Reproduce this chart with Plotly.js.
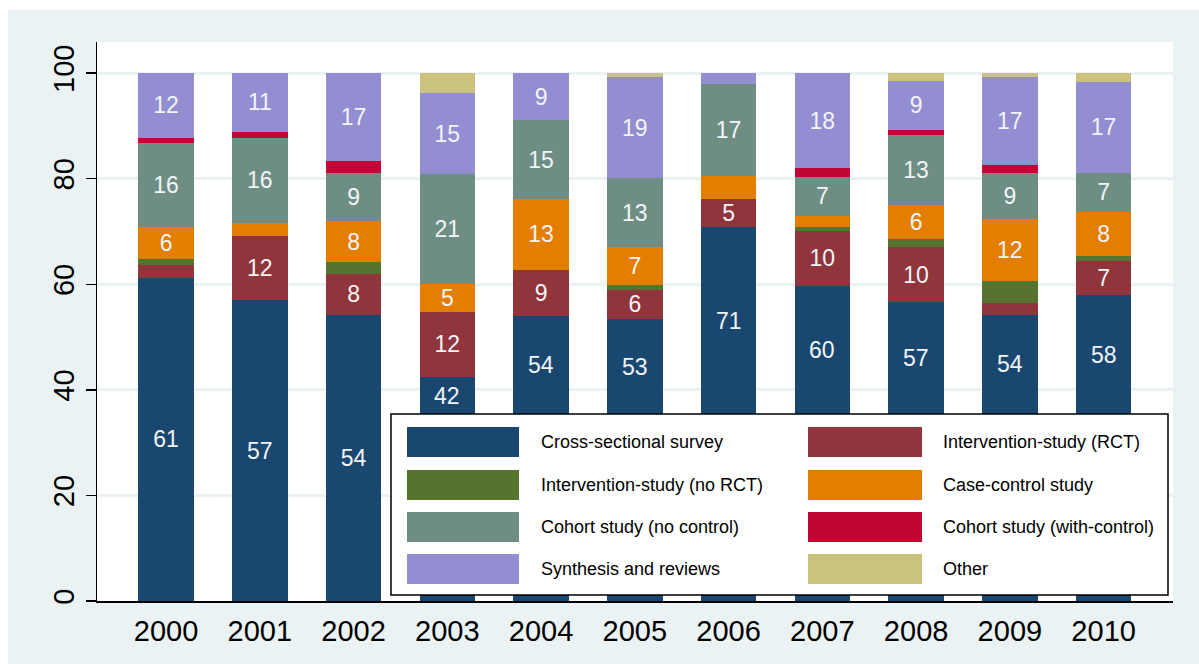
<!DOCTYPE html>
<html>
<head>
<meta charset="utf-8">
<script src="https://cdn.plot.ly/plotly-3.0.1.min.js"></script>
<style>
  html, body { margin: 0; padding: 0; background: #ffffff; width: 1199px; height: 664px; overflow: hidden; }
  #chart { position: absolute; left: 8px; top: 10px; width: 1191px; height: 654px; }
</style>
</head>
<body>
<div id="chart"></div>
<script>
// ---- data (percent of studies per year) ----
const years = [2000, 2001, 2002, 2003, 2004, 2005, 2006, 2007, 2008, 2009, 2010];
const yearLabels = ["2000", "2001", "2002", "2003", "2004", "2005", "2006", "2007", "2008", "2009", "2010"];

const crossSectional   = [61.2, 57.0, 54.2, 42.4, 54.0, 53.4, 70.8, 59.7, 56.7, 54.2, 57.9];
const interventionRCT  = [2.4, 12.2, 7.8, 12.4, 8.8, 5.6, 5.3, 10.4, 10.3, 2.2, 6.6];
const interventionNoRCT= [1.1, 0, 2.2, 0, 0, 0.8, 0, 0.8, 1.6, 4.2, 0.8];
const caseControl      = [6.2, 2.5, 7.8, 5.3, 13.3, 7.2, 4.5, 2.1, 6.4, 11.7, 8.4];
const cohortNoControl  = [15.8, 16.1, 9.1, 20.8, 15.0, 13.1, 17.3, 7.3, 13.3, 8.8, 7.4];
const cohortWithControl= [1.1, 1.1, 2.3, 0, 0, 0, 0, 1.7, 0.9, 1.5, 0];
const synthesisReviews = [12.2, 11.1, 16.6, 15.3, 8.9, 19.1, 2.1, 18.0, 9.4, 16.6, 17.3];
const other            = [0, 0, 0, 3.8, 0, 0.8, 0, 0, 1.4, 0.8, 1.6];

const seriesNames = [
  "Cross-sectional survey", "Intervention-study (RCT)",
  "Intervention-study (no RCT)", "Case-control study",
  "Cohort study (no control)", "Cohort study (with-control)",
  "Synthesis and reviews", "Other"
];
const seriesValues = [crossSectional, interventionRCT, interventionNoRCT, caseControl,
                      cohortNoControl, cohortWithControl, synthesisReviews, other];
const seriesColors = ["#1a476f", "#90353b", "#55752f", "#e37e00",
                      "#6e8e84", "#c10534", "#938dd2", "#cac27e"];

// ---- geometry of the plot area (page pixels) ----
const plotL = 97, plotR = 1173, plotT = 42, plotB = 601;
const xRange = [1999.263, 2010.74], yRange = [0, 105.9];
const px = x => (x - plotL) / (plotR - plotL);
const py = y => (plotB - y) / (plotB - plotT);
const legendBox = { l: 391, r: 1168, t: 414, b: 595 };
const legendTopVal = yRange[0] + (plotB - legendBox.t) / (plotB - plotT) * (yRange[1] - yRange[0]);
const yearPx = yr => plotL + (yr - xRange[0]) / (xRange[1] - xRange[0]) * (plotR - plotL);

const labelFont = { color: "#f2f4f8", size: 23, family: "Liberation Sans, Arial, sans-serif" };
const annotations = [];

// ---- traces ----
const cum = years.map(() => 0);
const traces = seriesNames.map((name, i) => {
  const text = seriesValues[i].map((v, j) => {
    const base = cum[j], top = base + v;
    cum[j] = top;
    if (v < 5) return "";
    const center = (base + top) / 2;
    const hidden = center < legendTopVal && yearPx(years[j]) > legendBox.l;
    if (hidden) {
      // label is shown in the part of the segment left visible above the legend
      annotations.push({
        x: years[j], y: (Math.max(base, legendTopVal) + top) / 2, xref: "x", yref: "y",
        text: String(Math.round(v)), showarrow: false, font: labelFont
      });
      return "";
    }
    return String(Math.round(v));
  });
  return {
    type: "bar",
    name: name,
    x: years,
    y: seriesValues[i],
    width: 0.59,
    marker: { color: seriesColors[i], line: { width: 0 } },
    text: text,
    textposition: "inside",
    insidetextanchor: "middle",
    constraintext: "none",
    textangle: 0,
    textfont: labelFont,
    hoverinfo: "name+y",
    showlegend: false
  };
});

// ---- custom legend (Stata style: wide swatches, 2 columns) ----
const shapes = [{
  type: "rect", xref: "paper", yref: "paper",
  x0: px(legendBox.l), x1: px(legendBox.r), y0: py(legendBox.b), y1: py(legendBox.t),
  line: { color: "#000000", width: 1.5 }, fillcolor: "#ffffff", layer: "above"
}];
const rowY = [442, 485, 527, 569];
const swX = [[407, 519], [808, 922]];
const txX = [539, 941];
seriesNames.forEach((name, i) => {
  const r = Math.floor(i / 2), c = i % 2;
  shapes.push({
    type: "rect", xref: "paper", yref: "paper",
    x0: px(swX[c][0]), x1: px(swX[c][1]), y0: py(rowY[r] + 15), y1: py(rowY[r] - 15),
    line: { width: 0 }, fillcolor: seriesColors[i], layer: "above"
  });
  annotations.push({
    xref: "paper", yref: "paper", x: px(txX[c]), y: py(rowY[r]),
    xanchor: "left", yanchor: "middle", showarrow: false,
    text: name,
    font: { family: "Liberation Sans Narrow, Arial Narrow, Liberation Sans, Arial, sans-serif", size: 18, color: "#000000" }
  });
});

const layout = {
  width: 1191, height: 654,
  margin: { l: 89, r: 26, t: 32, b: 63, pad: 0 },
  paper_bgcolor: "#eaf2f3",
  plot_bgcolor: "#ffffff",
  barmode: "stack",
  showlegend: false,
  font: { family: "Liberation Sans, Arial, sans-serif", color: "#000000" },
  xaxis: {
    range: xRange,
    tickmode: "array", tickvals: years, ticktext: yearLabels,
    showgrid: false, zeroline: false,
    showline: true, linecolor: "#000000", linewidth: 1.5,
    ticks: "", ticklabelstandoff: 4,
    tickfont: { size: 29, color: "#000000" }
  },
  yaxis: {
    range: yRange,
    tickmode: "array", tickvals: [0, 20, 40, 60, 80, 100], ticktext: ["0", "20", "40", "60", "80", "100"],
    tickangle: -90,
    showgrid: true, gridcolor: "#eaf2f3", gridwidth: 3,
    zeroline: false,
    showline: true, linecolor: "#000000", linewidth: 1.5,
    ticks: "outside", ticklen: 10, tickwidth: 1.5, tickcolor: "#000000",
    tickfont: { size: 29, color: "#000000" }
  },
  shapes: shapes,
  annotations: annotations
};

Plotly.newPlot("chart", traces, layout, { displayModeBar: false, staticPlot: true });
</script>
</body>
</html>
